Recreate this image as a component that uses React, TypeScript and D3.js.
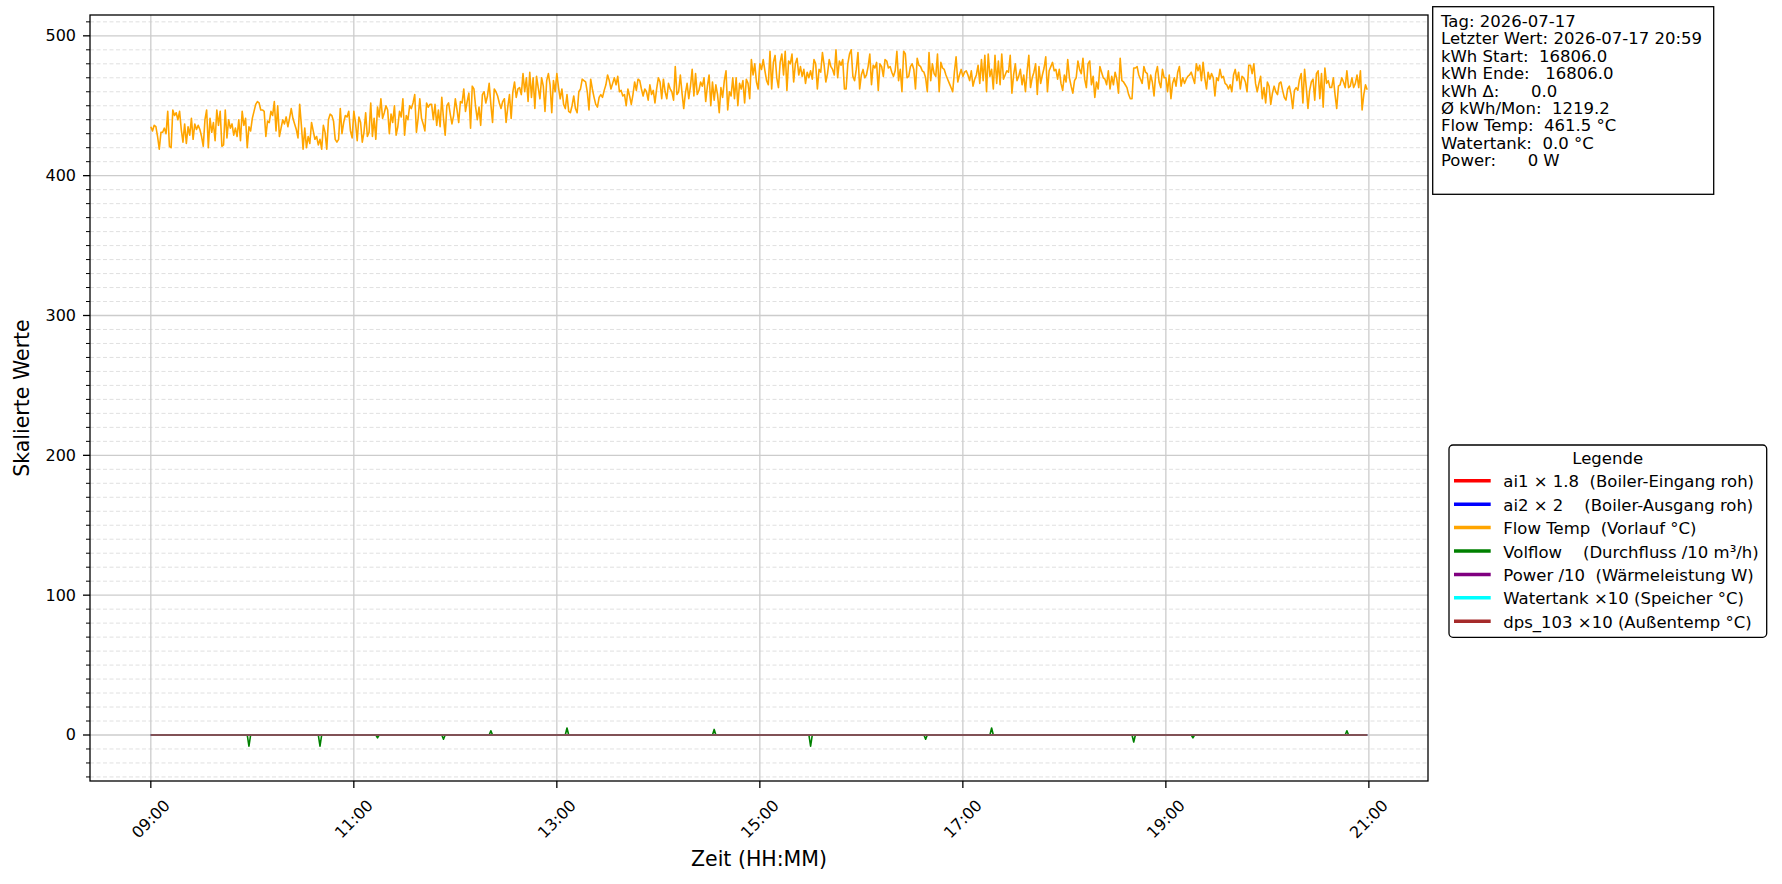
import * as d3 from "d3";

const FONT = "'DejaVu Sans', sans-serif";

// Zeitraum (Minutenwerte)
const START_TIME = "09:00";
const END_TIME = "20:59";
const X_TICKS = ["09:00", "11:00", "13:00", "15:00", "17:00", "19:00", "21:00"];
const Y_TICKS = [0, 100, 200, 300, 400, 500];

// Flow Temp, ein Wert pro Minute ab 09:00
const FLOW_TEMP = [
  435, 432, 436, 435, 428, 419, 431, 431, 434, 430, 446, 421, 420, 447, 443, 445, 440, 446, 433, 424, 437, 423, 435, 429, 441, 426, 437, 433, 436, 433,
  428, 421, 440, 447, 420, 441, 431, 438, 425, 447, 436, 446, 421, 422, 447, 427, 440, 434, 437, 429, 434, 428, 440, 425, 446, 436, 441, 420, 435, 432,
  441, 446, 451, 453, 452, 447, 447, 446, 428, 439, 438, 446, 443, 453, 432, 450, 428, 434, 440, 437, 442, 435, 441, 448, 441, 437, 433, 427, 451, 436,
  419, 434, 420, 428, 423, 438, 432, 426, 428, 422, 426, 419, 436, 431, 419, 440, 444, 443, 439, 426, 424, 426, 448, 430, 438, 443, 442, 446, 432, 427,
  446, 438, 425, 442, 438, 424, 431, 445, 428, 431, 452, 428, 441, 426, 449, 442, 455, 441, 445, 450, 447, 430, 444, 438, 450, 429, 435, 446, 442, 455,
  429, 443, 440, 450, 448, 452, 458, 431, 441, 455, 441, 437, 432, 452, 449, 451, 451, 440, 451, 436, 447, 435, 456, 441, 429, 450, 452, 444, 437, 443,
  455, 447, 438, 453, 452, 462, 446, 453, 459, 434, 464, 462, 449, 440, 449, 436, 458, 460, 452, 457, 466, 451, 438, 462, 460, 457, 452, 448, 453, 455,
  438, 449, 458, 441, 460, 467, 456, 462, 463, 458, 473, 460, 470, 453, 474, 456, 470, 448, 471, 463, 455, 470, 464, 446, 468, 473, 465, 445, 468, 460,
  473, 463, 455, 462, 451, 448, 458, 446, 445, 450, 457, 448, 445, 460, 462, 469, 468, 467, 460, 447, 469, 462, 456, 451, 449, 456, 458, 456, 461, 465,
  472, 468, 462, 466, 470, 465, 471, 460, 461, 457, 458, 450, 462, 457, 451, 458, 467, 461, 469, 468, 462, 457, 462, 460, 454, 465, 458, 461, 452, 462,
  470, 467, 455, 469, 460, 455, 466, 462, 460, 454, 478, 458, 460, 472, 459, 448, 459, 466, 455, 464, 476, 457, 473, 458, 461, 467, 464, 470, 453, 464,
  472, 450, 467, 454, 465, 458, 445, 463, 456, 468, 475, 447, 460, 457, 470, 455, 470, 450, 466, 462, 468, 452, 469, 466, 455, 483, 472, 480, 467, 462,
  480, 476, 483, 475, 468, 465, 489, 462, 481, 486, 470, 463, 481, 487, 472, 489, 461, 482, 480, 487, 467, 480, 484, 472, 478, 471, 476, 466, 474, 470,
  475, 469, 483, 480, 462, 476, 474, 488, 479, 467, 473, 483, 478, 476, 472, 490, 470, 482, 479, 483, 462, 462, 480, 487, 490, 471, 468, 476, 488, 462,
  472, 476, 470, 472, 478, 487, 465, 479, 477, 481, 461, 480, 478, 471, 483, 482, 477, 478, 474, 471, 475, 489, 468, 476, 460, 489, 487, 470, 471, 478,
  480, 476, 462, 484, 479, 478, 475, 474, 470, 460, 488, 468, 480, 473, 471, 487, 460, 481, 477, 476, 472, 469, 466, 463, 460, 474, 485, 467, 472, 476,
  471, 474, 475, 472, 468, 475, 464, 469, 472, 479, 466, 483, 468, 486, 460, 487, 471, 476, 462, 486, 466, 482, 465, 487, 469, 472, 475, 474, 486, 459,
  472, 480, 468, 471, 476, 465, 472, 460, 475, 486, 463, 470, 474, 480, 458, 478, 466, 472, 477, 485, 460, 475, 478, 481, 475, 476, 469, 476, 466, 461,
  472, 467, 483, 470, 464, 459, 468, 470, 482, 476, 473, 484, 469, 463, 480, 482, 465, 471, 456, 467, 462, 478, 474, 470, 469, 465, 475, 462, 471, 465,
  474, 469, 459, 484, 468, 467, 465, 463, 458, 455, 455, 477, 477, 478, 472, 469, 466, 478, 474, 473, 462, 472, 467, 457, 473, 478, 467, 463, 476, 470,
  470, 460, 472, 455, 466, 470, 464, 474, 478, 464, 470, 466, 469, 471, 472, 474, 470, 466, 480, 475, 479, 468, 481, 470, 462, 474, 469, 473, 470, 457,
  470, 468, 476, 470, 471, 466, 465, 462, 465, 460, 472, 476, 468, 474, 462, 471, 470, 467, 460, 479, 479, 473, 480, 466, 460, 466, 471, 455, 463, 452,
  467, 464, 451, 459, 464, 460, 458, 466, 467, 461, 456, 454, 462, 464, 458, 448, 461, 463, 461, 469, 473, 452, 476, 463, 448, 461, 467, 469, 454, 473,
  475, 455, 473, 449, 477, 466, 468, 463, 463, 470, 458, 448, 464, 465, 470, 467, 463, 475, 463, 464, 470, 463, 466, 472, 463, 475, 447, 458, 465, 461.5,
];

// Volflow: sonst 0, nur einzelne Ausreisser
const VOLFLOW_SPIKES: [string, number][] = [
  ["09:58", -8], ["10:40", -8], ["11:14", -2], ["11:53", -3], ["12:21", 3],
  ["13:06", 5], ["14:33", 4], ["15:30", -8], ["16:38", -3], ["17:17", 5],
  ["18:41", -5], ["19:16", -2], ["20:47", 3],
];

// konstante Reihen (Start, Ende)
const AI1 = [0, 0];
const AI2 = [0, 0];
const POWER = [0, 0];
const WATERTANK = [0, 0];
const DPS_103 = [0, 0];

const LEGEND_LABELS = [
  "ai1 × 1.8  (Boiler-Eingang roh)",
  "ai2 × 2    (Boiler-Ausgang roh)",
  "Flow Temp  (Vorlauf °C)",
  "Volflow    (Durchfluss /10 m³/h)",
  "Power /10  (Wärmeleistung W)",
  "Watertank ×10 (Speicher °C)",
  "dps_103 ×10 (Außentemp °C)",
];
const COLORS = ["#ff0000", "#0000ff", "#ffa500", "#008000", "#800080", "#00ffff", "#a52a2a"];

const INFO_LINES = [
  "Tag: 2026-07-17",
  "Letzter Wert: 2026-07-17 20:59",
  "kWh Start:  16806.0",
  "kWh Ende:   16806.0",
  "kWh Δ:      0.0",
  "Ø kWh/Mon:  1219.2",
  "Flow Temp:  461.5 °C",
  "Watertank:  0.0 °C",
  "Power:      0 W",
];

const toMin = (s: string) => {
  const [h, m] = s.split(":").map(Number);
  return h * 60 + m;
};
const fmt = (m: number) => `${String(Math.floor(m / 60)).padStart(2, "0")}:${String(m % 60).padStart(2, "0")}`;

const W = 1782;
const H = 884;
const margin = { left: 90, right: 1428, top: 15, bottom: 781 };

export default function App() {
  const t0 = toMin(START_TIME);
  const t1 = toMin(END_TIME);

  const flat = (vals: number[]): [number, number][] => [[t0, vals[0]], [t1, vals[1]]];
  const flow: [number, number][] = FLOW_TEMP.map((v, i) => [t0 + i, v]);
  const volflow: [number, number][] = [
    [t0, 0],
    ...VOLFLOW_SPIKES.flatMap(([t, v]) => {
      const m = toMin(t);
      return [[m - 1, 0], [m, v], [m + 1, 0]] as [number, number][];
    }),
    [t1, 0],
  ];
  const series = [flat(AI1), flat(AI2), flow, volflow, flat(POWER), flat(WATERTANK), flat(DPS_103)];

  const span = t1 - t0;
  const x = d3
    .scaleLinear()
    .domain([t0 - span * 0.05, t1 + span * 0.05])
    .range([margin.left, margin.right]);

  const [yMin, yMax] = d3.extent(series.flat().map((d) => d[1])) as [number, number];
  const pad = (yMax - yMin) * 0.05;
  const y = d3
    .scaleLinear()
    .domain([yMin - pad, yMax + pad])
    .range([margin.bottom, margin.top]);

  const line = d3
    .line<[number, number]>()
    .x((d) => x(d[0]))
    .y((d) => y(d[1]));

  const minorY = d3.range(-30, 520, 10).filter((v) => v % 100 !== 0 && v >= y.domain()[0] && v <= y.domain()[1]);

  return (
    <svg
      width={W}
      height={H}
      style={{ position: "absolute", left: 0, top: 0, background: "#fff" }}
      fontFamily={FONT}
    >
      {/* minor grid */}
      {minorY.map((v) => (
        <line key={"mg" + v} x1={margin.left} x2={margin.right} y1={y(v)} y2={y(v)} stroke="#d8d8d8" strokeWidth={0.8} strokeDasharray="4,2.5" />
      ))}
      {/* major grid */}
      {Y_TICKS.map((v) => (
        <line key={"gy" + v} x1={margin.left} x2={margin.right} y1={y(v)} y2={y(v)} stroke="#cccccc" strokeWidth={1.3} />
      ))}
      {X_TICKS.map((t) => (
        <line key={"gx" + t} x1={x(toMin(t))} x2={x(toMin(t))} y1={margin.top} y2={margin.bottom} stroke="#cccccc" strokeWidth={1.3} />
      ))}

      {/* series */}
      {series.map((s, i) => (
        <path key={"s" + i} d={line(s) ?? ""} fill="none" stroke={COLORS[i]} strokeWidth={1.6} strokeLinejoin="round" />
      ))}

      {/* spines */}
      <rect x={margin.left} y={margin.top} width={margin.right - margin.left} height={margin.bottom - margin.top} fill="none" stroke="#000" strokeWidth={1.3} />

      {/* y ticks */}
      {minorY.map((v) => (
        <line key={"mt" + v} x1={margin.left - 4} x2={margin.left} y1={y(v)} y2={y(v)} stroke="#000" strokeWidth={1} />
      ))}
      {Y_TICKS.map((v) => (
        <g key={"yt" + v}>
          <line x1={margin.left - 7} x2={margin.left} y1={y(v)} y2={y(v)} stroke="#000" strokeWidth={1.3} />
          <text x={margin.left - 14} y={y(v)} textAnchor="end" dominantBaseline="central" fontSize={16}>
            {v}
          </text>
        </g>
      ))}

      {/* x ticks */}
      {X_TICKS.map((t) => {
        const px = x(toMin(t));
        return (
          <g key={"xt" + t}>
            <line x1={px} x2={px} y1={margin.bottom} y2={margin.bottom + 7} stroke="#000" strokeWidth={1.3} />
            <text transform={`translate(${px},${margin.bottom + 38}) rotate(-45)`} textAnchor="middle" dominantBaseline="central" fontSize={16}>
              {fmt(toMin(t))}
            </text>
          </g>
        );
      })}

      {/* axis labels */}
      <text x={(margin.left + margin.right) / 2} y={866} textAnchor="middle" fontSize={20.5}>
        Zeit (HH:MM)
      </text>
      <text transform={`translate(22,${(margin.top + margin.bottom) / 2}) rotate(-90)`} textAnchor="middle" dominantBaseline="central" fontSize={20.5}>
        Skalierte Werte
      </text>

      {/* info box */}
      <rect x={1432.7} y={6.7} width={281} height={187.6} fill="#fff" stroke="#000" strokeWidth={1.3} />
      {INFO_LINES.map((l, i) => (
        <text key={"info" + i} x={1441} y={26.7 + i * 17.45} fontSize={16.5} style={{ whiteSpace: "pre" }}>
          {l}
        </text>
      ))}

      {/* legend */}
      <rect x={1449} y={445} width={317.7} height={192.3} rx={4} fill="#fff" stroke="#000" strokeWidth={1.3} />
      <text x={1607.7} y={464.3} textAnchor="middle" fontSize={16.5}>
        Legende
      </text>
      {LEGEND_LABELS.map((l, i) => {
        const by = 487.3 + i * 23.4;
        return (
          <g key={"lg" + i}>
            <line x1={1454} x2={1490.7} y1={by - 6.5} y2={by - 6.5} stroke={COLORS[i]} strokeWidth={3.5} />
            <text x={1503.3} y={by} fontSize={16.5} style={{ whiteSpace: "pre" }}>
              {l}
            </text>
          </g>
        );
      })}
    </svg>
  );
}
